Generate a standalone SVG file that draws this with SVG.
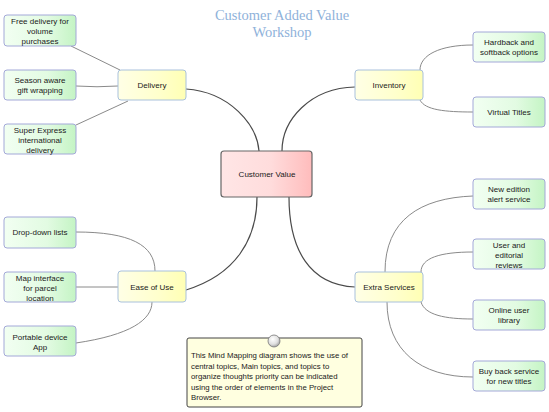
<svg xmlns="http://www.w3.org/2000/svg" width="549" height="412" viewBox="0 0 549 412">
<defs>
<linearGradient id="gGreen" x1="0" y1="0" x2="1" y2="0"><stop offset="0" stop-color="#f2fff2"/><stop offset="0.6" stop-color="#e2fbe2"/><stop offset="1" stop-color="#c4f4c4"/></linearGradient>
<linearGradient id="gYellow" x1="0" y1="0" x2="1" y2="0"><stop offset="0" stop-color="#ffffe6"/><stop offset="0.6" stop-color="#ffffcc"/><stop offset="1" stop-color="#ffffb4"/></linearGradient>
<linearGradient id="gPink" x1="0" y1="0" x2="1" y2="0"><stop offset="0" stop-color="#ffe6e6"/><stop offset="0.55" stop-color="#ffdcdc"/><stop offset="1" stop-color="#ffbcbc"/></linearGradient>
<radialGradient id="gPin" cx="0.4" cy="0.35" r="0.7"><stop offset="0" stop-color="#ffffff"/><stop offset="0.6" stop-color="#e0e0e0"/><stop offset="1" stop-color="#9a9a9a"/></radialGradient>
</defs>
<style>
text{font-family:"Liberation Sans",Arial,sans-serif;font-size:8px;fill:#1a1a1a;text-anchor:middle}
.leaf rect{fill:url(#gGreen);stroke:#a3a8d8;stroke-width:1}
.main rect{fill:url(#gYellow);stroke:#a9c1dc;stroke-width:1}
.center rect{fill:url(#gPink);stroke:#666;stroke-width:1.2}
.c1{fill:none;stroke:#4a4a4a;stroke-width:1.2}
.c2{fill:none;stroke:#8a8a8a;stroke-width:1}
.title{font-family:"Liberation Serif","Times New Roman",serif;font-size:14.5px;fill:#8fb2da}
.note text{font-size:7.8px;text-anchor:start;fill:#1a1a1a}
</style>
<rect width="549" height="412" fill="#fff"/>
<text class="title" x="282" y="20">Customer Added Value</text>
<text class="title" x="282" y="37">Workshop</text>

<g id="connectors">
<path class="c1" d="M186,89 C230,92 257,125 259,151"/>
<path class="c1" d="M355,87 C310,88 282,120 282,151"/>
<path class="c1" d="M186,290 C235,275 257,240 257,197"/>
<path class="c1" d="M355,287 C310,285 289,250 289,197"/>
<path class="c2" d="M71,46 L120,70"/>
<path class="c2" d="M76,86 Q97,87.5 118,86"/>
<path class="c2" d="M76,125 L128,101"/>
<path class="c2" d="M76,232 C130,232 155,245 155,271"/>
<path class="c2" d="M76,287 L118,287"/>
<path class="c2" d="M76,343 C130,335 152,320 152,302"/>
<path class="c2" d="M420,70 C420,55 440,45 473,45"/>
<path class="c2" d="M420,100 C425,110 445,112 473,112"/>
<path class="c2" d="M385,272 C385,220 420,198 473,196"/>
<path class="c2" d="M421,272 C421,258 440,252 473,252"/>
<path class="c2" d="M421,302 C425,315 445,319 473,319"/>
<path class="c2" d="M387,302 C387,350 420,377 473,377"/>
</g>

<g id="customer-value" class="center"><rect x="221" y="151" width="91" height="46" rx="3"/><text x="267" y="177">Customer Value</text></g>

<g id="delivery" class="main"><rect x="118" y="70" width="68" height="30" rx="3"/><text x="152" y="88">Delivery</text></g>
<g id="inventory" class="main"><rect x="355" y="70" width="68" height="30" rx="3"/><text x="389" y="88">Inventory</text></g>
<g id="ease-of-use" class="main"><rect x="118" y="271" width="68" height="31" rx="3"/><text x="152" y="290">Ease of Use</text></g>
<g id="extra-services" class="main"><rect x="355" y="272" width="68" height="30" rx="3"/><text x="389" y="290">Extra Services</text></g>

<g id="free-delivery" class="leaf"><rect x="4" y="15" width="72" height="31" rx="3"/><text x="40" y="24">Free delivery for</text><text x="40" y="34">volume</text><text x="40" y="44">purchases</text></g>
<g id="season-aware" class="leaf"><rect x="4" y="70" width="72" height="30" rx="3"/><text x="40" y="83">Season aware</text><text x="40" y="93">gift wrapping</text></g>
<g id="super-express" class="leaf"><rect x="4" y="124" width="72" height="30" rx="3"/><text x="40" y="133">Super Express</text><text x="40" y="143">international</text><text x="40" y="153">delivery</text></g>

<g id="drop-down" class="leaf"><rect x="4" y="217" width="72" height="31" rx="3"/><text x="40" y="235">Drop-down lists</text></g>
<g id="map-interface" class="leaf"><rect x="4" y="272" width="72" height="30" rx="3"/><text x="40" y="281">Map interface</text><text x="40" y="291">for parcel</text><text x="40" y="301">location</text></g>
<g id="portable" class="leaf"><rect x="4" y="326" width="72" height="30" rx="3"/><text x="40" y="340">Portable device</text><text x="40" y="350">App</text></g>

<g id="hardback" class="leaf"><rect x="473" y="32" width="72" height="30" rx="3"/><text x="509" y="45">Hardback and</text><text x="509" y="55">softback options</text></g>
<g id="virtual-titles" class="leaf"><rect x="473" y="97" width="72" height="30" rx="3"/><text x="509" y="115">Virtual Titles</text></g>

<g id="new-edition" class="leaf"><rect x="473" y="179" width="72" height="30" rx="3"/><text x="509" y="192">New edition</text><text x="509" y="202">alert service</text></g>
<g id="user-editorial" class="leaf"><rect x="473" y="239" width="72" height="30" rx="3"/><text x="509" y="248">User and</text><text x="509" y="258">editorial</text><text x="509" y="268">reviews</text></g>
<g id="online-library" class="leaf"><rect x="473" y="300" width="72" height="30" rx="3"/><text x="509" y="313">Online user</text><text x="509" y="323">library</text></g>
<g id="buy-back" class="leaf"><rect x="473" y="361" width="72" height="30" rx="3"/><text x="509" y="374">Buy back service</text><text x="509" y="384">for new titles</text></g>

<g id="note" class="note">
<rect x="187" y="338" width="175" height="69" rx="2" fill="#ffffe0" stroke="#444" stroke-width="1"/>
<circle cx="274" cy="341" r="6" fill="url(#gPin)" stroke="#777" stroke-width="0.8"/>
<text x="191" y="358">This Mind Mapping diagram shows the use of</text>
<text x="191" y="369">central topics, Main topics, and topics to</text>
<text x="191" y="379">organize thoughts priority can be indicated</text>
<text x="191" y="390">using the order of elements in the Project</text>
<text x="191" y="400">Browser.</text>
</g>
</svg>
